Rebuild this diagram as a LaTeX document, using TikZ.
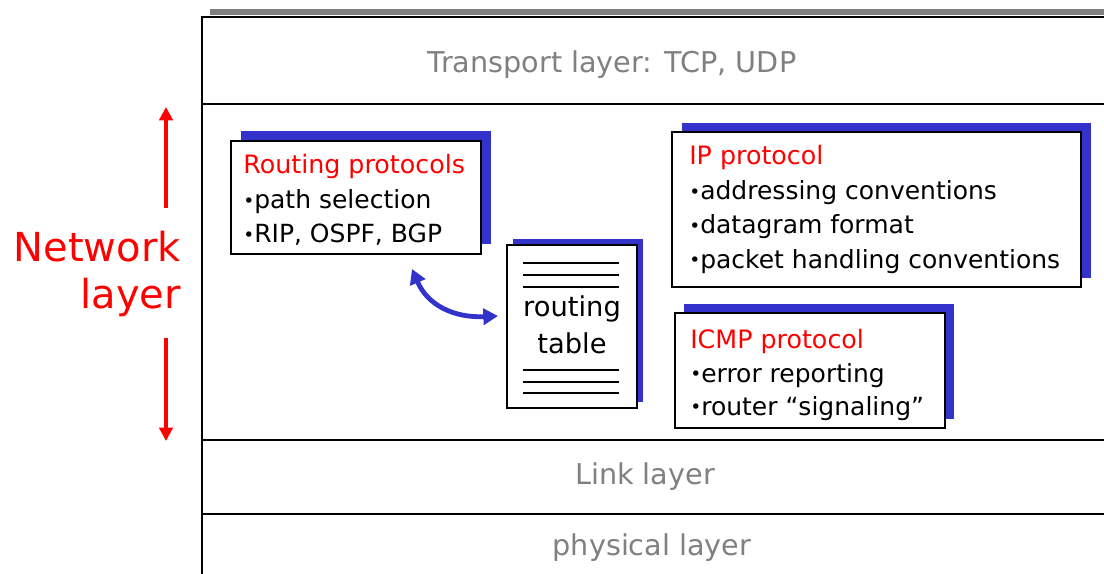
\documentclass[tikz,border=0pt]{standalone}
\usepackage{fontspec}
\setmainfont{DejaVu Sans}
\usetikzlibrary{arrows.meta,shadows,fit}
\definecolor{shadowblue}{HTML}{3333CC}
\definecolor{layergray}{HTML}{808080}
\definecolor{netred}{HTML}{FF0000}
\newcommand\itm{\raisebox{0.05em}{\fontsize{14}{14}\selectfont•}}
\begin{document}
\begin{tikzpicture}[x=0.75pt,y=-0.75pt,
  frame/.style={line width=1.9pt,black},
  topbar/.style={line width=4.2pt,layergray},
  layerlabel/.style={text=layergray,font=\fontsize{21.5}{25}\selectfont,inner sep=0pt},
  protobox/.style={draw=black,line width=1.9pt,fill=white,inner sep=0pt},
  boxtitle/.style={anchor=base west,inner sep=0pt,text=netred,font=\fontsize{19}{22}\selectfont},
  boxitem/.style={anchor=base west,inner sep=0pt,text=black,font=\fontsize{18.75}{22}\selectfont},
  tabletext/.style={inner sep=0pt,font=\fontsize{20.5}{22}\selectfont},
  tableline/.style={line width=1.9pt,black},
  netlabel/.style={anchor=base east,inner sep=0pt,text=netred,font=\fontsize{30}{34}\selectfont},
  redarrow/.style={line width=2.5pt,netred,-{Triangle[length=10pt,width=10pt]}},
  bluearrow/.style={line width=3.6pt,shadowblue,{Triangle[length=11pt,width=12pt]}-{Triangle[length=11pt,width=12pt]}}
]
\useasboundingbox (0,0) rectangle (1104,574);

% protocol stack frame
\draw[topbar] (210,12) -- (1104,12);
\draw[frame] (202,574) -- (202,17) -- (1104,17);
\draw[frame] (202,104) -- (1104,104);
\draw[frame] (202,440) -- (1104,440);
\draw[frame] (202,514) -- (1104,514);

% layer names
\node[layerlabel] (transport) at (612,65) {Transport layer: TCP, UDP};
\node[layerlabel] (link) at (645,477) {Link layer};
\node[layerlabel] (physical) at (652,548) {physical layer};

% network layer label with its extent arrows
\node[netlabel] (netA) at (181,262) {Network};
\node[netlabel] (netB) at (181,308) {layer};
\coordinate (upfrom) at (166,208);
\coordinate (uptip) at (166,107);
\coordinate (downfrom) at (166,338);
\coordinate (downtip) at (166,441);
\draw[redarrow] (upfrom) -- (uptip);
\draw[redarrow] (downfrom) -- (downtip);

% routing protocols
\node[protobox,fit={(231,141) (481,254)},
  general shadow={fill=shadowblue,shadow xshift=7.5pt,shadow yshift=7.5pt}] (routing) {};
\node[boxtitle] (routingT) at (243,174) {Routing protocols};
\node[boxitem] (routing1) at (243,209) {\itm path selection};
\node[boxitem] (routing2) at (243,243) {\itm RIP, OSPF, BGP};

% routing table
\node[protobox,fit={(507,245) (637,408)},
  general shadow={fill=shadowblue,shadow xshift=4.5pt,shadow yshift=4.5pt}] (table) {};
\foreach \yy in {263,275,287,370,382,393}
  \draw[tableline] (523,\yy) -- (619,\yy);
\node[tabletext] (tableA) at (572,309) {routing};
\node[tabletext] (tableB) at (572,343) {table};

% IP protocol
\node[protobox,fit={(672,132) (1081,287)},
  general shadow={fill=shadowblue,shadow xshift=7.5pt,shadow yshift=7pt}] (ip) {};
\node[boxtitle] (ipT) at (689,165) {IP protocol};
\node[boxitem] (ip1) at (689,200) {\itm addressing conventions};
\node[boxitem] (ip2) at (689,234) {\itm datagram format};
\node[boxitem] (ip3) at (689,268) {\itm packet handling conventions};

% ICMP protocol
\node[protobox,fit={(675,313) (945,428)},
  general shadow={fill=shadowblue,shadow xshift=6.5pt,shadow yshift=6.5pt}] (icmp) {};
\node[boxtitle] (icmpT) at (690,348) {ICMP protocol};
\node[boxitem] (icmp1) at (690,382) {\itm error reporting};
\node[boxitem] (icmp2) at (690,415) {\itm router “signaling”};

% exchange between routing protocols and routing table
\coordinate (exA) at (412,269);
\coordinate (exB) at (498,316);
\draw[bluearrow] (exA) .. controls (428,306) and (455,318) .. (exB);
\end{tikzpicture}
\end{document}
